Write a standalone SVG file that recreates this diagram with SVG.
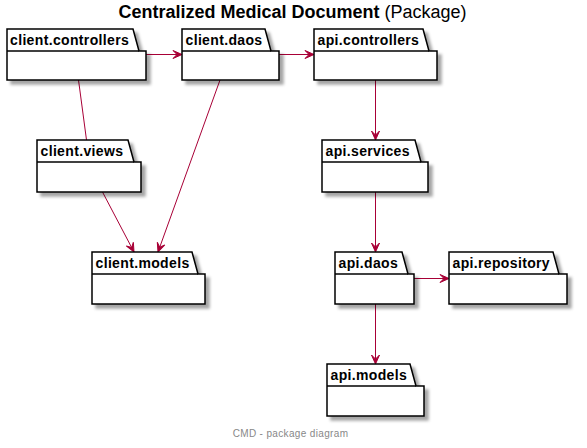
<svg xmlns="http://www.w3.org/2000/svg" width="587" height="448" viewBox="0 0 587 448">
<style>
.pk{fill:#FFFFFF;stroke:#000000;stroke-width:1.5;filter:url(#sh)}
.tl{fill:none;stroke:#000000;stroke-width:1.5}
.lb{font-family:"Liberation Sans",Arial,sans-serif;font-size:14px;font-weight:bold;fill:#000000;letter-spacing:0.35px}
.ln{fill:none;stroke:#A80036;stroke-width:1}
.ar{marker-end:url(#ah)}
</style>
<defs>
<filter id="sh" x="-10%" y="-10%" width="130%" height="150%">
<feGaussianBlur in="SourceAlpha" stdDeviation="1.7" result="b"/>
<feOffset in="b" dx="4" dy="4" result="o"/>
<feFlood flood-color="#000000" flood-opacity="0.35"/>
<feComposite in2="o" operator="in" result="s"/>
<feMerge><feMergeNode in="s"/><feMergeNode in="SourceGraphic"/></feMerge>
</filter>
<marker id="ah" viewBox="-10 -5 11 10" refX="0" refY="0" markerWidth="11" markerHeight="10" markerUnits="userSpaceOnUse" orient="auto">
<path d="M0,0 L-9,-4 L-5,0 L-9,4 Z" fill="#A80036" stroke="#A80036" stroke-width="1"/>
</marker>
</defs>
<rect width="587" height="448" fill="#FFFFFF"/>
<text x="292.5" y="17.5" text-anchor="middle" font-family="'Liberation Sans',Arial,sans-serif" font-size="18" fill="#000000"><tspan font-weight="bold">Centralized Medical Document</tspan> (Package)</text>

<g id="connectors">
<line class="ln ar" x1="146" y1="54.5" x2="182" y2="54.5"/>
<line class="ln ar" x1="279" y1="54.5" x2="314" y2="54.5"/>
<line class="ln" x1="78.5" y1="80" x2="86.5" y2="140"/>
<line class="ln ar" x1="102.5" y1="192" x2="134" y2="252"/>
<line class="ln ar" x1="220" y1="80" x2="158" y2="252"/>
<line class="ln ar" x1="375.5" y1="80" x2="375.5" y2="140"/>
<line class="ln ar" x1="375.5" y1="192" x2="375.5" y2="252"/>
<line class="ln ar" x1="414" y1="278.5" x2="449" y2="278.5"/>
<line class="ln ar" x1="375.5" y1="304" x2="375.5" y2="364"/>
</g>

<g id="client.controllers">
<path class="pk" d="M7,29 L133,29 L139,51 L146,51 L146,80 L7,80 Z"/>
<line class="tl" x1="7" y1="51" x2="139" y2="51"/>
<text class="lb" x="10" y="44.5">client.controllers</text>
</g>
<g id="client.daos">
<path class="pk" d="M182,29 L265,29 L271,51 L279,51 L279,80 L182,80 Z"/>
<line class="tl" x1="182" y1="51" x2="271" y2="51"/>
<text class="lb" x="185.5" y="44.5">client.daos</text>
</g>
<g id="api.controllers">
<path class="pk" d="M314,29 L423,29 L429,51 L437,51 L437,80 L314,80 Z"/>
<line class="tl" x1="314" y1="51" x2="429" y2="51"/>
<text class="lb" x="317.5" y="44.5">api.controllers</text>
</g>
<g id="client.views">
<path class="pk" d="M37,140 L128,140 L134,162 L141,162 L141,192 L37,192 Z"/>
<line class="tl" x1="37" y1="162" x2="134" y2="162"/>
<text class="lb" x="40.5" y="155.5">client.views</text>
</g>
<g id="api.services">
<path class="pk" d="M322,140 L415,140 L421,162 L428,162 L428,192 L322,192 Z"/>
<line class="tl" x1="322" y1="162" x2="421" y2="162"/>
<text class="lb" x="325.5" y="155.5">api.services</text>
</g>
<g id="client.models">
<path class="pk" d="M92,252 L192,252 L198,274 L205,274 L205,304 L92,304 Z"/>
<line class="tl" x1="92" y1="274" x2="198" y2="274"/>
<text class="lb" x="95.5" y="267.5">client.models</text>
</g>
<g id="api.daos">
<path class="pk" d="M335,252 L402,252 L408,274 L414,274 L414,304 L335,304 Z"/>
<line class="tl" x1="335" y1="274" x2="408" y2="274"/>
<text class="lb" x="338.5" y="267.5">api.daos</text>
</g>
<g id="api.repository">
<path class="pk" d="M449,252 L553,252 L559,274 L567,274 L567,304 L449,304 Z"/>
<line class="tl" x1="449" y1="274" x2="559" y2="274"/>
<text class="lb" x="452.5" y="267.5">api.repository</text>
</g>
<g id="api.models">
<path class="pk" d="M327,364 L410,364 L416,386 L424,386 L424,416 L327,416 Z"/>
<line class="tl" x1="327" y1="386" x2="416" y2="386"/>
<text class="lb" x="330.5" y="379.5">api.models</text>
</g>

<text x="290.5" y="437" text-anchor="middle" font-family="'Liberation Sans',Arial,sans-serif" font-size="10" letter-spacing="0.35" fill="#888888">CMD - package diagram</text>
</svg>
